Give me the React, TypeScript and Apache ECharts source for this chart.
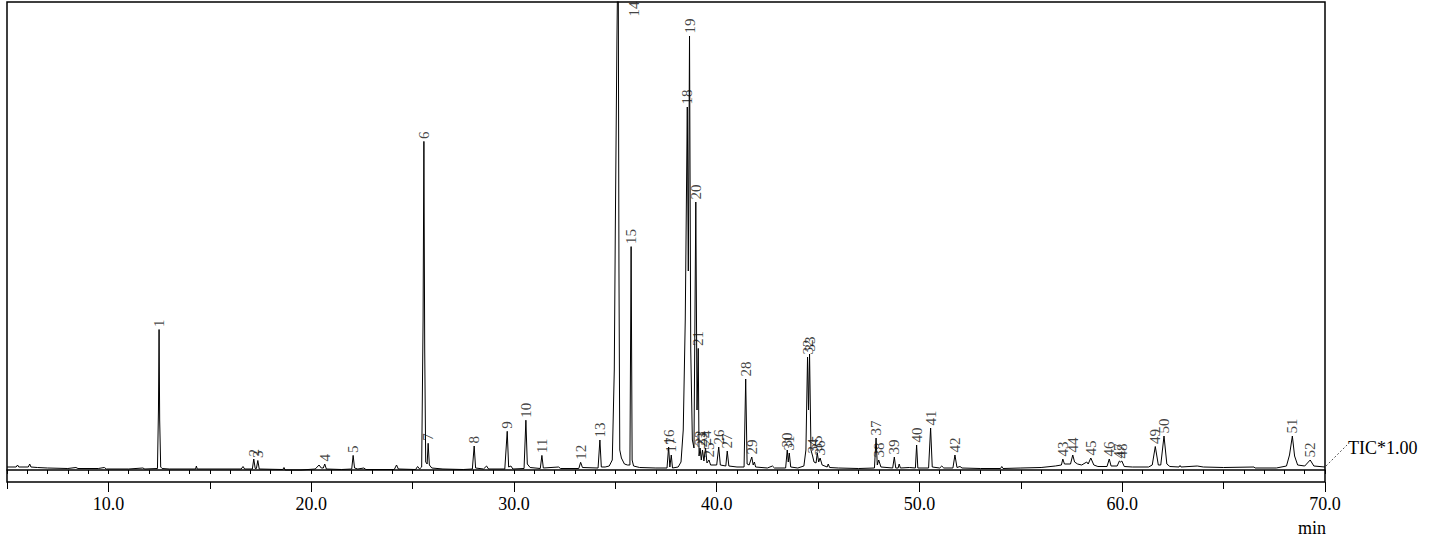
import React, { useEffect, useRef } from "react";
import * as echarts from "echarts";

// Retention time (min) vs. signal (arbitrary units)
const traceEarly: [number, number][] = [
  [5.0, 3], [5.45, 3], [5.52, 5], [5.58, 3], [6.05, 3], [6.12, 6], [6.18, 3], [6.5, 2.5], [7.0, 2], [8.0, 1.5],
  [8.4, 2.5], [8.5, 1.5], [9.5, 1.5], [9.8, 2.5], [9.9, 1], [11.0, 1], [11.7, 2], [11.8, 1], [12.42, 1.5],
  [12.47, 60], [12.5, 140.5], [12.53, 50], [12.58, 3], [12.65, 1.5], [13.0, 1], [14.3, 1], [14.34, 4], [14.38, 1],
  [16.55, 1], [16.64, 3.5], [16.72, 1], [17.1, 1], [17.17, 11], [17.24, 1.5], [17.3, 1.5], [17.37, 9.5], [17.44, 1],
  [18.6, 0.5], [18.66, 2.5], [18.72, 0], [19.5, 0], [20.2, 1], [20.39, 5], [20.5, 2], [20.6, 2], [20.67, 6],
  [20.75, 1], [21.5, 0.5], [22.0, 1], [22.07, 14.6], [22.14, 2], [22.3, 1], [22.6, 2], [22.7, 0.5], [24.1, 0.5],
  [24.21, 5], [24.3, 1], [25.15, 0.5], [25.25, 3.5], [25.35, 1], [25.45, 3], [25.52, 150], [25.56, 328.6],
  [25.6, 120], [25.65, 8], [25.72, 6], [25.77, 26.7], [25.83, 5], [25.95, 2], [26.5, 1], [27.5, 0.5], [27.95, 1],
  [28.04, 24], [28.11, 2], [28.5, 1], [28.65, 4], [28.75, 1], [29.55, 1], [29.67, 38.7], [29.74, 3], [29.85, 4],
  [29.95, 1], [30.5, 1.5], [30.59, 49.8], [30.66, 6], [30.8, 2.5], [31.3, 1.5], [31.38, 14.6], [31.45, 2],
  [32.2, 3], [32.3, 1.5], [33.2, 1.5], [33.29, 7.7], [33.38, 2.5], [34.15, 2], [34.24, 30], [34.31, 3],
];

const traceMiddle: [number, number][] = [
  [34.5, 3], [34.7, 4], [34.85, 10], [34.95, 100], [35.0, 240], [35.08, 430], [35.14, 540], [35.18, 200],
  [35.22, 20], [35.3, 12], [35.45, 6], [35.6, 5], [35.72, 5], [35.78, 223.4], [35.83, 10], [35.9, 4], [36.2, 2.5],
  [37.0, 2], [37.55, 2], [37.63, 23], [37.69, 3], [37.76, 15], [37.82, 2], [38.1, 3], [38.24, 8], [38.35, 40],
  [38.45, 150], [38.55, 363], [38.6, 199], [38.66, 434], [38.72, 120], [38.8, 30], [38.88, 22], [38.97, 268],
  [39.03, 60], [39.09, 121.6], [39.13, 14], [39.18, 22], [39.24, 10], [39.3, 20], [39.37, 9], [39.45, 22],
  [39.52, 7], [39.62, 10], [39.7, 5], [40.0, 5], [40.1, 23], [40.18, 5], [40.45, 4], [40.52, 19], [40.6, 4],
  [41.0, 3], [41.35, 3], [41.43, 91], [41.5, 6], [41.6, 5], [41.73, 13], [41.8, 5], [41.86, 8], [41.92, 3],
  [42.5, 2], [42.75, 4], [42.85, 2], [43.4, 2], [43.48, 20], [43.53, 8], [43.58, 17], [43.65, 3], [44.0, 2],
  [44.3, 4], [44.4, 20], [44.48, 113], [44.53, 60], [44.58, 116], [44.65, 20], [44.73, 14], [44.8, 8], [44.9, 7],
  [44.96, 17], [45.03, 8], [45.1, 12], [45.2, 5], [45.45, 3], [45.5, 6], [45.57, 2.5], [46.0, 2],
];

const traceLate: [number, number][] = [
  [47.0, 1.5], [47.78, 2], [47.86, 32], [47.92, 5], [47.99, 10], [48.1, 3], [48.68, 2], [48.76, 13], [48.83, 2],
  [48.95, 2], [49.0, 6], [49.06, 2], [49.5, 2.5], [49.8, 2], [49.86, 25], [49.92, 2], [50.45, 2], [50.55, 42],
  [50.63, 3], [51.0, 2], [51.1, 4], [51.2, 2], [51.65, 2], [51.75, 15], [51.85, 2.5], [52.0, 3.5], [52.1, 2],
  [53.0, 1.5], [54.0, 1.5], [54.06, 3.5], [54.12, 1.5], [55.0, 2], [56.0, 2.5], [56.7, 4], [57.0, 5], [57.07, 11],
  [57.15, 6], [57.45, 6], [57.56, 15], [57.65, 8], [57.8, 6], [58.0, 5], [58.25, 8], [58.32, 6], [58.45, 12],
  [58.6, 5], [58.8, 3.5], [59.25, 3.5], [59.36, 11], [59.45, 4], [59.75, 4], [59.86, 9], [59.92, 8], [59.98, 9],
  [60.1, 3.5], [60.5, 3], [61.3, 3], [61.48, 5], [61.63, 23.5], [61.78, 5], [61.9, 5], [62.06, 34], [62.2, 6],
  [62.35, 3.5], [62.8, 3], [62.85, 4.5], [62.9, 3], [63.7, 4], [64.0, 3], [65.0, 2.5], [66.5, 3], [66.55, 2],
  [67.6, 2], [68.1, 4], [68.25, 15], [68.39, 34], [68.5, 14], [68.65, 5], [69.0, 4], [69.27, 10], [69.45, 4],
  [70.0, 3],
];

// Numbered peaks: retention time and apex signal
const peakIds = [
  "1", "2", "3", "4", "5", "6", "7", "8", "9", "10", "11", "12", "13", "14", "15", "16", "17", "18", "19", "20",
  "21", "22", "23", "24", "25", "26", "27", "28", "29", "30", "31", "32", "33", "34", "35", "36", "37", "38", "39",
  "40", "41", "42", "43", "44", "45", "46", "47", "48", "49", "50", "51", "52",
];
const peakTimes = [
  12.5, 17.17, 17.37, 20.67, 22.07, 25.56, 25.77, 28.04, 29.67, 30.59, 31.38, 33.29, 34.24, 35.14, 35.78, 37.63,
  37.76, 38.55, 38.66, 38.97, 39.09, 39.18, 39.3, 39.45, 39.62, 40.1, 40.52, 41.43, 41.73, 43.48, 43.58, 44.48,
  44.58, 44.73, 44.96, 45.1, 47.86, 47.99, 48.76, 49.86, 50.55, 51.75, 57.07, 57.56, 58.45, 59.36, 59.86, 59.98,
  61.63, 62.06, 68.39, 69.27,
];
const peakHeights = [
  140.5, 11, 9.5, 6, 14.6, 328.6, 26.7, 24, 38.7, 49.8, 14.6, 7.7, 30, 540, 223.4, 23, 15, 363, 434, 268, 121.6,
  22, 20, 22, 10, 23, 19, 91, 13, 20, 17, 113, 116, 14, 17, 12, 32, 10, 13, 25, 42, 15, 11, 15, 12, 11, 9, 9,
  23.5, 34, 34, 10,
];

const labelTicks = [10, 20, 30, 40, 50, 60, 70];

const Y_MIN = -12;
const Y_MAX = 468;

export default function App() {
  const ref = useRef<HTMLDivElement>(null);

  useEffect(() => {
    if (!ref.current) return;
    const chart = echarts.init(ref.current, null, { renderer: "svg" });
    const serif = "'Liberation Serif', 'Times New Roman', serif";

    const trace = [...traceEarly, ...traceMiddle, ...traceLate];

    const labelData = peakIds.map((id, i) => {
      const h = peakHeights[i];
      const clipped = h > Y_MAX - 10;
      return {
        name: id,
        value: [peakTimes[i], clipped ? Y_MAX - 17 : h],
        label: clipped ? { offset: [0, 16] } : undefined,
      };
    });

    const baseAxis = {
      type: "value",
      min: 5,
      max: 70,
      position: "bottom",
      splitLine: { show: false },
      gridIndex: 0,
    };

    chart.setOption({
      animation: false,
      grid: {
        left: 7,
        right: 106,
        top: 2,
        bottom: 59,
        show: true,
        borderColor: "#000",
        borderWidth: 1.5,
        backgroundColor: "transparent",
      },
      xAxis: [
        {
          ...baseAxis,
          interval: 1,
          axisLine: { show: true, lineStyle: { color: "#000", width: 1.5 } },
          axisTick: { show: true, length: 4, lineStyle: { color: "#000", width: 1 } },
          axisLabel: { show: false },
        },
        {
          ...baseAxis,
          interval: 5,
          axisLine: { show: false },
          axisTick: { show: true, length: 7, lineStyle: { color: "#000", width: 1 } },
          axisLabel: { show: false },
        },
        {
          ...baseAxis,
          axisLine: { show: false },
          axisTick: { show: true, length: 10, customValues: labelTicks, lineStyle: { color: "#000", width: 1 } },
          axisLabel: {
            show: true,
            customValues: labelTicks,
            formatter: (v: number) => v.toFixed(1),
            margin: 13,
            fontFamily: serif,
            fontSize: 18,
            color: "#000",
          },
        },
      ],
      yAxis: { type: "value", min: Y_MIN, max: Y_MAX, show: false },
      series: [
        {
          type: "line",
          data: trace,
          xAxisIndex: 0,
          symbol: "none",
          showSymbol: false,
          clip: true,
          lineStyle: { color: "#000", width: 1 },
          z: 2,
        },
        {
          type: "scatter",
          data: labelData,
          xAxisIndex: 0,
          symbolSize: 1,
          itemStyle: { color: "rgba(0,0,0,0)" },
          label: {
            show: true,
            formatter: "{b}",
            position: "top",
            distance: 2,
            rotate: 90,
            align: "left",
            verticalAlign: "middle",
            fontFamily: serif,
            fontSize: 15,
            color: "#111",
          },
          z: 3,
        },
      ],
      graphic: [
        {
          type: "line",
          shape: { x1: 1326, y1: 466, x2: 1347, y2: 445 },
          style: { stroke: "#555", lineWidth: 1, lineDash: [2, 2] },
        },
        {
          type: "text",
          x: 1348,
          y: 448,
          style: {
            text: "TIC*1.00",
            fontFamily: serif,
            fontSize: 18,
            fill: "#000",
            textAlign: "left",
            textVerticalAlign: "middle",
          },
        },
        {
          type: "text",
          x: 1312,
          y: 528,
          style: {
            text: "min",
            fontFamily: serif,
            fontSize: 18,
            fill: "#000",
            textAlign: "center",
            textVerticalAlign: "middle",
          },
        },
      ],
    });

    return () => chart.dispose();
  }, []);

  return (
    <div
      ref={ref}
      style={{ position: "fixed", left: 0, top: 0, width: 1431, height: 541, background: "#fff" }}
    />
  );
}
